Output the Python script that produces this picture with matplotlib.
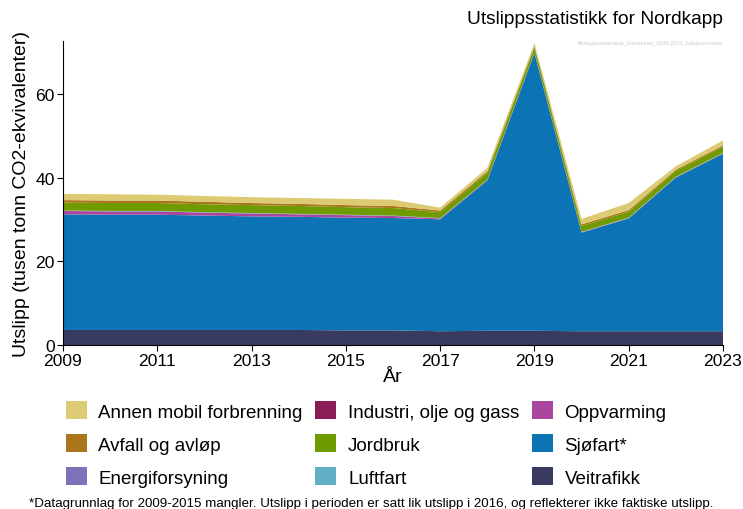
import matplotlib
matplotlib.use('Agg')
import matplotlib.pyplot as plt
from matplotlib.patches import Patch
import numpy as np

plt.rcParams['font.family'] = ['Liberation Sans', 'DejaVu Sans']

years = np.arange(2009, 2024)

# thousand tonnes CO2-eq per sector
veitrafikk = [3.6, 3.6, 3.6, 3.6, 3.6, 3.6, 3.5, 3.5, 3.3, 3.4, 3.4, 3.3, 3.3, 3.3, 3.3]
sjofart = [27.7, 27.6, 27.6, 27.4, 27.2, 27.1, 27.0, 26.9, 26.8, 36.0, 66.5, 23.6, 27.0, 36.8, 42.5]
oppvarming = [0.8, 0.8, 0.8, 0.7, 0.7, 0.6, 0.6, 0.5, 0.2, 0.1, 0.1, 0.1, 0.1, 0.1, 0.1]
luftfart = [0.1, 0.1, 0.1, 0.1, 0.1, 0.1, 0.1, 0.1, 0.1, 0.1, 0.1, 0.1, 0.1, 0.1, 0.1]
jordbruk = [1.9, 1.9, 1.9, 1.9, 1.9, 1.9, 1.8, 1.8, 1.4, 1.6, 1.2, 1.4, 1.4, 1.4, 1.5]
industri = [0.0] * 15
energiforsyning = [0.0] * 15
avfall = [0.6, 0.6, 0.6, 0.6, 0.5, 0.5, 0.5, 0.5, 0.4, 0.4, 0.3, 0.4, 0.4, 0.3, 0.3]
annen_mobil = [1.5, 1.5, 1.4, 1.4, 1.4, 1.4, 1.5, 1.5, 0.7, 0.8, 0.7, 1.3, 1.7, 0.8, 1.2]

sectors = ['Veitrafikk', 'Sjøfart*', 'Oppvarming', 'Luftfart', 'Jordbruk',
           'Industri, olje og gass', 'Energiforsyning', 'Avfall og avløp',
           'Annen mobil forbrenning']
values = [veitrafikk, sjofart, oppvarming, luftfart, jordbruk,
          industri, energiforsyning, avfall, annen_mobil]
colors = ['#383b5f', '#0c73b4', '#ab46a0', '#62b0c6', '#6f9a00',
          '#8a1c56', '#7b72b9', '#a9761b', '#dccb72']

fig = plt.figure(figsize=(7.43, 5.10), dpi=100)
ax = fig.add_axes([63 / 743, 164 / 510, 660 / 743, 304 / 510])

ax.stackplot(years, *values, colors=colors, linewidth=0)

ax.set_xlim(2009, 2023)
ax.set_ylim(0, 72.8)
ax.set_xticks(np.arange(2009, 2024, 2))
ax.set_yticks([0, 20, 40, 60])
ax.tick_params(labelsize=12.6, direction='out', length=4, pad=2, color='black')
for s in ['top', 'right']:
    ax.spines[s].set_visible(False)
ax.set_xlabel('År', fontsize=14, labelpad=0)
ax.set_ylabel('Utslipp (tusen tonn CO2-ekvivalenter)', fontsize=14, labelpad=4)

fig.text(723 / 743, 1 - 20 / 510, 'Utslippsstatistikk for Nordkapp',
         ha='right', va='center', fontsize=13.8)
fig.text(723 / 743, 1 - 43 / 510, 'klimagassregnskap_kommuner_2009-2023_bakgrunnsdata',
         ha='right', va='center', fontsize=4, color='#cccccc')

# legend in alphabetical order, filled column by column
order = sorted(range(len(sectors)), key=lambda i: sectors[i].lower())
handles = [Patch(facecolor=colors[i], label=sectors[i]) for i in order]
fig.legend(handles=handles, ncol=3, loc='center', bbox_to_anchor=(366 / 743, 1 - 445 / 510),
           frameon=False, fontsize=13.5, handlelength=1.12, handleheight=1.1,
           columnspacing=0.65, labelspacing=0.72, handletextpad=0.64)

fig.text(0.5, 1 - 504 / 510,
         '*Datagrunnlag for 2009-2015 mangler. Utslipp i perioden er satt lik utslipp i 2016, '
         'og reflekterer ikke faktiske utslipp.',
         ha='center', va='center', fontsize=9.6)

fig.savefig('out.png', dpi=100)
